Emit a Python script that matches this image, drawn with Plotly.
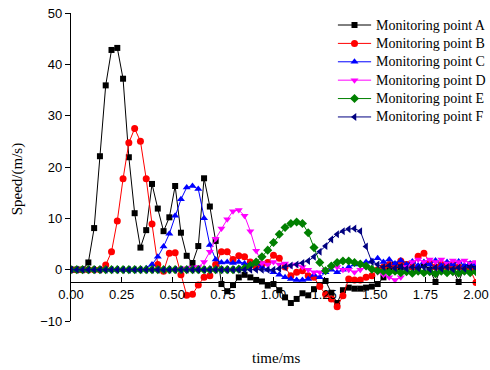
import plotly.graph_objects as go

time_ms = [0.0000, 0.0286, 0.0571, 0.0857, 0.1143, 0.1429, 0.1714, 0.2000, 0.2286, 0.2571,
           0.2857, 0.3143, 0.3429, 0.3714, 0.4000, 0.4286, 0.4571, 0.4857, 0.5143, 0.5429,
           0.5714, 0.6000, 0.6286, 0.6571, 0.6857, 0.7143, 0.7429, 0.7714, 0.8000, 0.8286,
           0.8571, 0.8857, 0.9143, 0.9429, 0.9714, 1.0000, 1.0286, 1.0571, 1.0857, 1.1143,
           1.1429, 1.1714, 1.2000, 1.2286, 1.2571, 1.2857, 1.3143, 1.3429, 1.3714, 1.4000,
           1.4286, 1.4571, 1.4857, 1.5143, 1.5429, 1.5714, 1.6000, 1.6286, 1.6571, 1.6857,
           1.7143, 1.7429, 1.7714, 1.8000, 1.8286, 1.8571, 1.8857, 1.9143, 1.9429, 1.9714, 2.0000]

point_A = [0, 0, 0, 1.4, 8.1, 22.1, 35.9, 42.8, 43.2, 37.2,
           21.9, 11.0, 4.3, 7.7, 16.7, 11.9, 7.5, 10.2, 16.3, 7.2,
           2.7, 1.3, 4.6, 17.8, 12.3, 5.6, -2.8, -4.2, -3.0, -1.5,
           -1.0, -1.5, -2.0, -2.3, -3.1, -2.8, -4.0, -5.4, -6.5, -5.7,
           -4.6, -5.0, -3.8, -3.0, -2.2, -4.5, -6.5, -4.0, -3.5, -3.7,
           -3.7, -3.5, -3.3, -2.8, -1.5, 0.5, 1.0, 0.5, 1.0, 0.5,
           0.0, 1.0, 0.0, -2.4, 0.5, 1.0, 0.0, -2.4, 0.5, 1.0, 0.5]

point_B = [0, 0, 0, 0, 0, 0, 0.9, 3.5, 9.5, 17.7,
           24.7, 27.5, 25.0, 17.7, 8.9, 1.0, -0.3, 3.2, 3.3, -1.0,
           -5.0, -4.8, -3.0, -1.5, -1.2, 1.0, 3.5, 3.5, 2.0, 2.7,
           2.5, 1.5, 0.5, 1.0, 1.4, 2.8, 2.2, 0.5, -1.2, -0.5,
           -0.2, -1.2, -1.5, -3.3, -4.8, -5.7, -7.2, -5.1, -1.8, -2.0,
           -2.0, -1.5, -1.2, 0.0, 0.5, 1.0, 0.5, 1.7, 1.0, 0.5,
           2.6, 3.2, 1.5, 0.5, 1.0, 0.5, 1.0, 0.5, 0.0, 0.0, -2.5]

point_C = [0, 0, 0, 0, 0, 0, 0, 0, 0, 0,
           0, 0, 0, 0.3, 1.0, 2.5, 4.5, 7.0, 10.5, 13.7,
           16.0, 16.3, 15.7, 10.0, 4.8, 2.0, 1.4, 1.5, 1.3, 1.5,
           1.2, 1.0, 1.2, 0.5, 0.0, -0.5, -1.0, -1.5, -1.8, -2.0,
           -2.0, -1.8, -1.0, -1.5, -0.5, 0.0, -0.5, 0.0, 0.5, 1.0,
           1.2, 1.5, 1.7, 2.2, 1.5, 2.0, 1.2, 1.8, 1.0, 1.6,
           0.8, 1.5, 1.0, 1.8, 0.8, 1.5, 1.0, 1.6, 0.8, 1.2, 1.0]

point_D = [0, 0, 0, 0, 0, 0, 0, 0, 0, 0,
           0, 0, 0, 0, 0, 0, 0, 0, 0, 0.2,
           0.3, 0.4, 0.5, 1.5, 3.5, 6.0, 8.0, 9.8, 11.4, 11.6,
           10.5, 7.5, 3.7, 1.3, 1.0, 1.5, 1.0, 1.2, 0.8, 1.0,
           0.5, 0.0, -0.5, -0.5, 0.0, 0.5, 0.5, 0.0, 0.0, -0.5,
           0.0, 0.5, 0.0, -0.5, -1.0, -1.5, -2.0, -1.5, 0.5, 1.5,
           2.0, 1.5, 2.0, 1.5, 2.0, 1.2, 1.8, 1.5, 1.8, 1.2, 1.5]

point_E = [0, 0, 0, 0, 0, 0, 0, 0, 0, 0,
           0, 0, 0, 0, 0, 0, 0, 0, 0, 0,
           0, 0, 0, 0, 0, 0, 0, 0, 0, 0.1,
           0.3, 0.8, 1.5, 2.5, 3.8, 5.3, 6.9, 8.2, 9.0, 9.3,
           9.0, 7.2, 4.3, 1.4, -0.2, 0.7, 1.4, 1.7, 1.7, 1.4,
           1.1, 0.7, 0.1, -0.2, -0.3, -0.5, -0.3, -0.6, -0.4, -0.7,
           -0.3, -0.6, -0.4, -0.8, -0.3, -0.6, -0.4, -0.7, -0.3, -0.6, -0.4]

point_F = [0, 0, 0, 0, 0, 0, 0, 0, 0, 0,
           0, 0, 0, 0, 0, 0, 0, 0, 0, 0,
           0, 0, 0, 0, 0, 0, 0, 0, 0, 0,
           0, 0, 0, 0, 0, 0.0, 0.2, 0.5, 0.8, 1.0,
           1.3, 1.7, 2.5, 3.5, 4.6, 5.9, 6.9, 7.5, 7.9, 8.0,
           7.5, 4.5, 1.5, 1.0, 0.5, 0.8, 0.3, 0.6, 0.2, 0.5,
           0.3, 0.5, 0.1, 0.4, 0.2, 0.5, 0.1, 0.4, 0.2, 0.5, 0.3]

series_names = ["Monitoring point A", "Monitoring point B", "Monitoring point C",
                "Monitoring point D", "Monitoring point E", "Monitoring point F"]
series_values = [point_A, point_B, point_C, point_D, point_E, point_F]
colors = ["#000000", "#FF0000", "#0000FF", "#FF00FF", "#008000", "#000080"]
symbols = ["square", "circle", "triangle-up", "triangle-down", "diamond", "triangle-left"]
sizes = [6, 7, 7, 7, 7, 7]

fig = go.Figure()
for name, vals, c, s, sz in zip(series_names, series_values, colors, symbols, sizes):
    fig.add_trace(go.Scatter(
        x=time_ms, y=vals, name=name, mode="lines+markers", showlegend=False,
        line=dict(color=c, width=1),
        marker=dict(symbol=s, size=sz, color=c, line=dict(width=0)),
    ))

# Manual legend (placed on an invisible overlay axis in plot-fraction units)
leg_x0, leg_x1, leg_text_x = 0.659, 0.741, 0.748
leg_y_top, leg_step = 0.961, 0.0597
annotations = []
for k, (name, c, s, sz) in enumerate(zip(series_names, colors, symbols, sizes)):
    yy = leg_y_top - k * leg_step
    fig.add_trace(go.Scatter(
        x=[leg_x0, (leg_x0 + leg_x1) / 2, leg_x1], y=[yy, yy, yy],
        xaxis="x2", yaxis="y2", mode="lines", showlegend=False, hoverinfo="skip",
        line=dict(color=c, width=1)))
    fig.add_trace(go.Scatter(
        x=[(leg_x0 + leg_x1) / 2], y=[yy], xaxis="x2", yaxis="y2", mode="markers",
        showlegend=False, hoverinfo="skip",
        marker=dict(symbol=s, size=sz, color=c, line=dict(width=0))))
    annotations.append(dict(text=name, xref="paper", yref="paper", x=leg_text_x, y=yy,
                            showarrow=False, xanchor="left", yanchor="middle",
                            font=dict(family="Liberation Serif", size=14, color="black")))

ymin, ymax = -10, 50
xaxis_at = -2.4

annotations += [
    dict(text="time/ms", xref="paper", yref="paper", x=0.506, y=0, yshift=-37,
         showarrow=False, xanchor="center", yanchor="middle",
         font=dict(family="Liberation Serif", size=15, color="black")),
    dict(text="Speed/(m/s)", xref="paper", yref="paper", x=0, xshift=-54, y=0.46,
         showarrow=False, textangle=-90, xanchor="center", yanchor="middle",
         font=dict(family="Liberation Serif", size=15, color="black")),
]

fig.update_layout(
    width=490, height=370,
    margin=dict(l=71, r=14, t=13, b=49, autoexpand=False),
    paper_bgcolor="white", plot_bgcolor="white",
    showlegend=False,
    xaxis=dict(range=[0, 2.0], tickvals=[0, 0.25, 0.5, 0.75, 1.0, 1.25, 1.5, 1.75, 2.0],
               ticktext=["0.00", "0.25", "0.50", "0.75", "1.00", "1.25", "1.50", "1.75", "2.00"],
               showline=True, linecolor="black", linewidth=1.2,
               ticks="inside", ticklen=5, tickcolor="black",
               showgrid=False, zeroline=False,
               anchor="free", position=(xaxis_at - ymin) / (ymax - ymin),
               tickfont=dict(family="Liberation Sans", size=13, color="black")),
    yaxis=dict(range=[ymin, ymax], tickvals=[-10, 0, 10, 20, 30, 40, 50],
               showline=True, linecolor="black", linewidth=1.2,
               ticks="outside", ticklen=5, tickcolor="black",
               showgrid=False, zeroline=False,
               tickfont=dict(family="Liberation Sans", size=13, color="black")),
    xaxis2=dict(range=[0, 1], overlaying="x", anchor="y2", visible=False, fixedrange=True),
    yaxis2=dict(range=[0, 1], overlaying="y", anchor="x2", visible=False, fixedrange=True),
    annotations=annotations,
)

fig.write_html("out.html", config={"displayModeBar": False},
               post_script="document.body.style.margin='0';document.body.style.overflow='hidden';")
